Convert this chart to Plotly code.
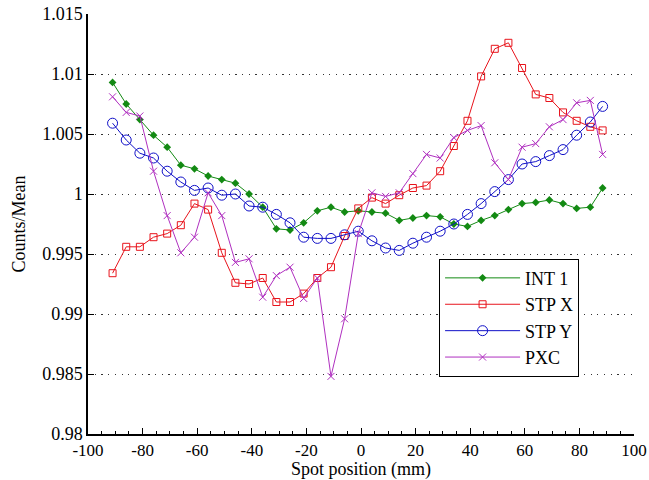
import plotly.graph_objects as go

x_mm = [-91, -86, -81, -76, -71, -66, -61, -56, -51, -46, -41, -36, -31, -26, -21, -16, -11, -6, -1,
        4, 9, 14, 19, 24, 29, 34, 39, 44, 49, 54, 59, 64, 69, 74, 79, 84, 88.5]

int1 = [1.0093, 1.0075, 1.0062, 1.0049, 1.0039, 1.0024, 1.0021, 1.0015, 1.0012, 1.0009, 1.0000, 0.9989,
        0.9971, 0.9970, 0.9976, 0.9986, 0.9989, 0.9985, 0.9986, 0.9985, 0.9984, 0.9978, 0.9980, 0.9982,
        0.9981, 0.9975, 0.9973, 0.9978, 0.9982, 0.9987, 0.9992, 0.9993, 0.9995, 0.9992, 0.9988, 0.9989, 1.0005]

stp_x = [0.9934, 0.9956, 0.9956, 0.9964, 0.9967, 0.9974, 0.9992, 0.9987, 0.9951, 0.9926, 0.9925, 0.9930,
         0.9910, 0.9910, 0.9917, 0.9930, 0.9939, 0.9965, 0.9988, 0.9997, 0.9992, 0.9999, 1.0005, 1.0007,
         1.0019, 1.0040, 1.0061, 1.0098, 1.0121, 1.0126, 1.0105, 1.0083, 1.0080, 1.0068, 1.0061, 1.0056, 1.0053]

stp_y = [1.0059, 1.0045, 1.0034, 1.0030, 1.0019, 1.0010, 1.0003, 1.0005, 0.9999, 1.0000, 0.9990, 0.9989,
         0.9983, 0.9976, 0.9964, 0.9963, 0.9963, 0.9966, 0.9969, 0.9961, 0.9955, 0.9953, 0.9959, 0.9964,
         0.9969, 0.9975, 0.9983, 0.9992, 1.0002, 1.0012, 1.0025, 1.0027, 1.0032, 1.0037, 1.0049, 1.0060, 1.0073]

pxc = [1.0081, 1.0068, 1.0065, 1.0019, 0.9982, 0.9951, 0.9964, 1.0001, 0.9982, 0.9943, 0.9946, 0.9914,
       0.9932, 0.9939, 0.9913, 0.9930, 0.9848, 0.9896, 0.9967, 1.0001, 0.9998, 1.0001, 1.0017, 1.0033,
       1.0030, 1.0047, 1.0053, 1.0057, 1.0026, 1.0012, 1.0039, 1.0042, 1.0056, 1.0062, 1.0076, 1.0078, 1.0033]

y_ticks = [0.98, 0.985, 0.99, 0.995, 1.0, 1.005, 1.01, 1.015]
y_tick_labels = ["0.98", "0.985", "0.99", "0.995", "1", "1.005", "1.01", "1.015"]
x_ticks = [-100, -80, -60, -40, -20, 0, 20, 40, 60, 80, 100]
x_tick_labels = ["-100", "-80", "-60", "-40", "-20", "0", "20", "40", "60", "80", "100"]

FONT = "Liberation Serif"

fig = go.Figure()
fig.add_trace(go.Scatter(x=x_mm, y=int1, name="INT 1", mode="lines+markers",
                         line=dict(color="#138a13", width=1),
                         marker=dict(symbol="diamond", size=6, color="#138a13")))
fig.add_trace(go.Scatter(x=x_mm, y=stp_x, name="STP X", mode="lines+markers",
                         line=dict(color="#e8141c", width=1),
                         marker=dict(symbol="square-open", size=7, color="#e8141c", line=dict(width=1))))
fig.add_trace(go.Scatter(x=x_mm, y=stp_y, name="STP Y", mode="lines+markers",
                         line=dict(color="#1010c8", width=1),
                         marker=dict(symbol="circle-open", size=10, color="#1010c8", line=dict(width=1))))
fig.add_trace(go.Scatter(x=x_mm, y=pxc, name="PXC", mode="lines+markers",
                         line=dict(color="#b030c0", width=1),
                         marker=dict(symbol="x-thin-open", size=7, color="#b030c0", line=dict(width=1, color="#b030c0"))))

fig.update_layout(
    width=649, height=480,
    margin=dict(l=88, r=15, t=14, b=46, autoexpand=False),
    paper_bgcolor="white", plot_bgcolor="white",
    font=dict(family=FONT, size=18, color="black"),
    showlegend=True,
    legend=dict(x=0.643, y=0.277, xanchor="left", yanchor="middle",
                bordercolor="black", borderwidth=1, bgcolor="white",
                font=dict(family=FONT, size=18), tracegroupgap=0, itemwidth=75),
)
fig.update_xaxes(range=[-100, 100], tickvals=x_ticks, ticktext=x_tick_labels, ticks="inside", ticklen=6,
                 tickcolor="black", automargin=False,
                 showline=True, linecolor="black", linewidth=1.5, showgrid=False, zeroline=False,
                 minor=dict(dtick=5, ticks="inside", ticklen=3, tickcolor="black", showgrid=False),
                 title=dict(text="Spot position (mm)", standoff=3, font=dict(family=FONT, size=18)),
                 tickfont=dict(family=FONT, size=17))
fig.update_yaxes(range=[0.98, 1.015], tickvals=y_ticks, ticktext=y_tick_labels, ticks="inside", ticklen=6,
                 tickcolor="black", automargin=False, showline=True, linecolor="black", linewidth=1.5,
                 showgrid=True, gridcolor="#333333", gridwidth=1, griddash="1.2px,5.5px", zeroline=False,
                 title=dict(text="Counts/Mean", standoff=12, font=dict(family=FONT, size=18)),
                 tickfont=dict(family=FONT, size=18))

fig.write_html("out.html", config={"displayModeBar": False},
               post_script="document.body.style.margin='0';document.body.style.overflow='hidden';")
